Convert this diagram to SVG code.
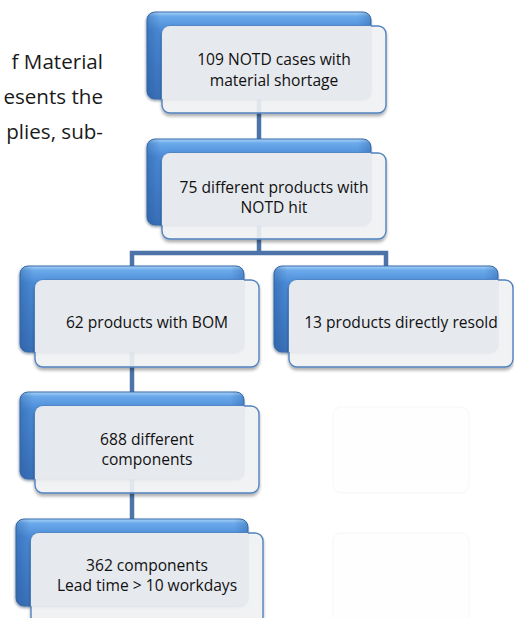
<svg xmlns="http://www.w3.org/2000/svg" width="514" height="618" viewBox="0 0 514 618">
  <defs>
    <linearGradient id="backFill" x1="0" y1="0" x2="0" y2="1">
      <stop offset="0" stop-color="#a9d3f7"/>
      <stop offset="0.05" stop-color="#6aa9ea"/>
      <stop offset="0.2" stop-color="#4b8bd7"/>
      <stop offset="1" stop-color="#3a71ba"/>
    </linearGradient>
    <linearGradient id="backSide" x1="0" y1="0" x2="1" y2="0">
      <stop offset="0" stop-color="#1f4f8f" stop-opacity="0.35"/>
      <stop offset="0.06" stop-color="#1f4f8f" stop-opacity="0"/>
      <stop offset="0.94" stop-color="#1f4f8f" stop-opacity="0"/>
      <stop offset="1" stop-color="#1f4f8f" stop-opacity="0.3"/>
    </linearGradient>
    <filter id="shadow" x="-10%" y="-10%" width="125%" height="130%">
      <feDropShadow dx="0" dy="2.5" stdDeviation="1.8" flood-color="#000" flood-opacity="0.35"/>
    </filter>
    <filter id="backShadow" x="-10%" y="-10%" width="125%" height="130%">
      <feDropShadow dx="-0.5" dy="1.5" stdDeviation="1.2" flood-color="#0b2347" flood-opacity="0.45"/>
    </filter>
  </defs>
  <style>
    .back { fill: url(#backFill); stroke: #3b6cab; stroke-width: 1; filter: url(#backShadow); }
    .side { fill: url(#backSide); }
    .front { fill: #f4f5f7; fill-opacity: 0.88; stroke: #5283bf; stroke-width: 1.4; filter: url(#shadow); }
    .overlap { fill: #e6e9ee; }
    .label { font-family: "Open Sans", "Noto Sans", sans-serif; font-size: 15.6px; fill: #111; text-anchor: middle; }
    .body { font-family: "Open Sans", "Noto Sans", sans-serif; font-size: 20.6px; fill: #1a1a1a; text-anchor: end; }
    .link { fill: none; stroke: #4c74a8; stroke-width: 4.5; stroke-linejoin: miter; stroke-linecap: butt; }
    .ghost { fill: #fefefe; stroke: #f6f6f6; stroke-width: 1; }
  </style>

  <rect width="514" height="618" fill="#fff"/>

  <!-- paragraph fragment at the left edge -->
  <g id="paragraph">
    <text class="body" x="103" y="69">f Material</text>
    <text class="body" x="103" y="104">esents the</text>
    <text class="body" x="103" y="139">plies, sub-</text>
  </g>

  <!-- empty placeholder frames -->
  <g id="placeholders">
    <rect class="ghost" x="333" y="407" width="136" height="86" rx="8"/>
    <rect class="ghost" x="333" y="533" width="136" height="92" rx="8"/>
  </g>

  <g id="connectors">
    <path class="link" d="M259,96 V139"/>
    <path class="link" d="M259,225 V253 M132,268 V253 H386 V268"/>
    <path class="link" d="M132,350 V392"/>
    <path class="link" d="M132,477 V520"/>
  </g>

  <g id="n1" transform="translate(147,12)">
    <rect class="back" width="224" height="87" rx="8"/>
    <rect class="side" width="224" height="87" rx="8"/>
    <rect class="front" x="15" y="14" width="224" height="87" rx="8"/>
    <path class="overlap" d="M15,22 A8,8 0 0 1 23,14 H224 V79 A8,8 0 0 1 216,87 H15 Z"/>
    <text class="label" x="127" y="53">109 NOTD cases with</text>
    <text class="label" x="127" y="74">material shortage</text>
  </g>

  <g id="n2" transform="translate(147,139)">
    <rect class="back" width="224" height="86" rx="8"/>
    <rect class="side" width="224" height="86" rx="8"/>
    <rect class="front" x="15" y="14" width="224" height="86" rx="8"/>
    <path class="overlap" d="M15,22 A8,8 0 0 1 23,14 H224 V78 A8,8 0 0 1 216,86 H15 Z"/>
    <text class="label" x="127" y="54">75 different products with</text>
    <text class="label" x="127" y="74">NOTD hit</text>
  </g>

  <g id="n3" transform="translate(20,266)">
    <rect class="back" width="224" height="86" rx="8"/>
    <rect class="side" width="224" height="86" rx="8"/>
    <rect class="front" x="15" y="14" width="224" height="87" rx="8"/>
    <path class="overlap" d="M15,22 A8,8 0 0 1 23,14 H224 V78 A8,8 0 0 1 216,86 H15 Z"/>
    <text class="label" x="127" y="62">62 products with BOM</text>
  </g>

  <g id="n4" transform="translate(274,266)">
    <rect class="back" width="224" height="86" rx="8"/>
    <rect class="side" width="224" height="86" rx="8"/>
    <rect class="front" x="15" y="14" width="224" height="87" rx="8"/>
    <path class="overlap" d="M15,22 A8,8 0 0 1 23,14 H224 V78 A8,8 0 0 1 216,86 H15 Z"/>
    <text class="label" x="127" y="62">13 products directly resold</text>
  </g>

  <g id="n5" transform="translate(20,392)">
    <rect class="back" width="224" height="87" rx="8"/>
    <rect class="side" width="224" height="87" rx="8"/>
    <rect class="front" x="15" y="14" width="224" height="87" rx="8"/>
    <path class="overlap" d="M15,22 A8,8 0 0 1 23,14 H224 V79 A8,8 0 0 1 216,87 H15 Z"/>
    <text class="label" x="127" y="53">688 different</text>
    <text class="label" x="127" y="73">components</text>
  </g>

  <g id="n6" transform="translate(16,519)">
    <rect class="back" width="232" height="87" rx="8"/>
    <rect class="side" width="232" height="87" rx="8"/>
    <rect class="front" x="15" y="14" width="232" height="92" rx="8"/>
    <path class="overlap" d="M15,22 A8,8 0 0 1 23,14 H232 V79 A8,8 0 0 1 224,87 H15 Z"/>
    <text class="label" x="131" y="52">362 components</text>
    <text class="label" x="131" y="72">Lead time &gt; 10 workdays</text>
  </g>
</svg>
